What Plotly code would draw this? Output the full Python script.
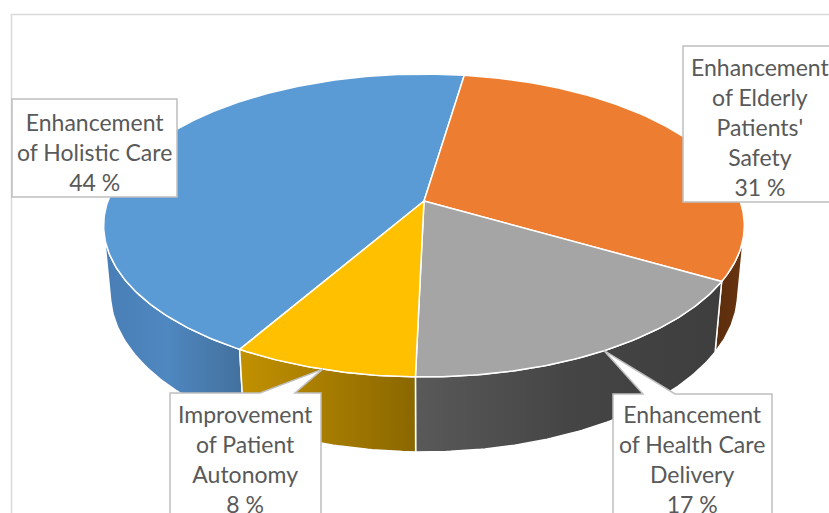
import numpy as np
import plotly.graph_objects as go

# ---- data ----
categories = [
    "Enhancement of Holistic Care",
    "Enhancement of Elderly Patients' Safety",
    "Enhancement of Health Care Delivery",
    "Improvement of Patient Autonomy",
]
label_text = [
    "Enhancement<br>of Holistic Care",
    "Enhancement<br>of Elderly<br>Patients'<br>Safety",
    "Enhancement<br>of Health Care<br>Delivery",
    "Improvement<br>of Patient<br>Autonomy",
]
shares = [44, 31, 17, 8]

# ---- styling ----
top_colors = ["#5b9bd5", "#ed7d31", "#a5a5a5", "#ffc000"]
wall_scales = [
    [[0, "#497eb5"], [0.45, "#4f87c0"], [1, "#42709c"]],
    [[0, "#5a2c0c"], [1, "#6a3511"]],
    [[0, "#595959"], [0.5, "#454545"], [1, "#3e3e3e"]],
    [[0, "#c29100"], [1, "#8a6700"]],
]
TEXT_COLOR = "#595959"
BOX_COLOR = "#bfbfbf"
FONT = "Lato"
FONT_SIZE = 23

W, H = 829, 513

# ---- 3-D view (perspective camera looking down on the disc) ----
CX, CY = 424, 201           # screen position of the pie centre
FOCAL = 1728.0
DIST = 5.466                # camera distance in disc radii
TILT = np.radians(27.8)     # elevation of the camera
THICK = 0.2435              # disc thickness in radii
FIRST_SLICE_ANGLE = 210.1   # degrees clockwise from the back of the disc

S, C = np.sin(TILT), np.cos(TILT)


def project(phi_deg, z, r=1.0):
    p = np.radians(phi_deg)
    depth = DIST + C * r * np.cos(p) - S * z
    x = CX + FOCAL * r * np.sin(p) / depth
    y = CY - FOCAL * (S * r * np.cos(p) + C * z) / depth
    return x, y


def arc(a0, a1, z):
    n = max(6, int(abs(a1 - a0) * 1.5))
    phis = np.linspace(a0, a1, n)
    return project(phis, z)


# silhouette of the cylinder wall seen from the camera
sil = np.degrees(np.arccos(-1.0 / (DIST * C)))
visible = (sil, 360 - sil)

total = float(sum(shares))
bounds = [FIRST_SLICE_ANGLE]
for v in shares:
    bounds.append(bounds[-1] + v / total * 360.0)

fig = go.Figure()

# outer walls first
for i, v in enumerate(shares):
    a0, a1 = bounds[i], bounds[i + 1]
    for k in (-1, 0, 1):
        lo = max(a0, visible[0] + 360 * k)
        hi = min(a1, visible[1] + 360 * k)
        if hi <= lo:
            continue
        tx, ty = arc(lo, hi, 0.0)
        bx, by = arc(lo, hi, -THICK)
        xs = np.concatenate([tx, bx[::-1], tx[:1]])
        ys = np.concatenate([ty, by[::-1], ty[:1]])
        fig.add_trace(go.Scatter(
            x=xs, y=ys, mode="lines", fill="toself",
            line=dict(color="white", width=1.5),
            fillgradient=dict(type="horizontal", colorscale=wall_scales[i],
                              start=float(xs.min()), stop=float(xs.max())),
            hoverinfo="skip", showlegend=False,
        ))

# top faces
for i, v in enumerate(shares):
    a0, a1 = bounds[i], bounds[i + 1]
    tx, ty = arc(a0, a1, 0.0)
    xs = np.concatenate([[CX], tx, [CX]])
    ys = np.concatenate([[CY], ty, [CY]])
    fig.add_trace(go.Scatter(
        x=xs, y=ys, mode="lines", fill="toself", fillcolor=top_colors[i],
        line=dict(color="white", width=1.5),
        hoverinfo="skip", showlegend=False, name=categories[i],
    ))

# ---- data labels ----
# box: (left, top, right, bottom), text centre, optional callout notch
label_layout = [
    dict(box=(12, 99, 177, 197), text=(94, 152), notch=None),
    dict(box=(683, 46, 834, 202), text=(760, 127), notch=None),
    dict(box=(613, 394, 772, 530), text=(692, 459), notch=(643, 675)),
    dict(box=(170, 393, 321, 530), text=(245, 459), notch=(260, 295)),
]

shapes = [dict(type="rect", xref="x", yref="y", x0=11.5, y0=14.5, x1=840, y1=530,
               line=dict(color="#d9d9d9", width=1.5), fillcolor="rgba(0,0,0,0)",
               layer="below")]
annotations = []
for i, v in enumerate(shares):
    spec = label_layout[i]
    l, t, r, b = spec["box"]
    if spec["notch"] is None:
        path = f"M{l},{t} L{r},{t} L{r},{b} L{l},{b} Z"
    else:
        mid = (bounds[i] + bounds[i + 1]) / 2.0
        tipx, tipy = project(mid, 0.0)
        n0, n1 = spec["notch"]
        path = (f"M{l},{t} L{n0},{t} L{tipx:.1f},{tipy:.1f} L{n1},{t} "
                f"L{r},{t} L{r},{b} L{l},{b} Z")
    shapes.append(dict(type="path", xref="x", yref="y", path=path,
                       fillcolor="white", line=dict(color=BOX_COLOR, width=1.5)))
    annotations.append(dict(
        x=spec["text"][0], y=spec["text"][1], xref="x", yref="y",
        text=f"{label_text[i]}<br>{v} %", showarrow=False, align="center",
        xanchor="center", yanchor="middle",
        font=dict(family=FONT, size=FONT_SIZE, color=TEXT_COLOR),
    ))

fig.update_layout(
    width=W, height=H, margin=dict(l=0, r=0, t=0, b=0),
    paper_bgcolor="white", plot_bgcolor="white",
    xaxis=dict(range=[0, W], visible=False, fixedrange=True),
    yaxis=dict(range=[H, 0], visible=False, fixedrange=True),
    shapes=shapes, annotations=annotations, showlegend=False,
)

fig.write_html("out.html")
